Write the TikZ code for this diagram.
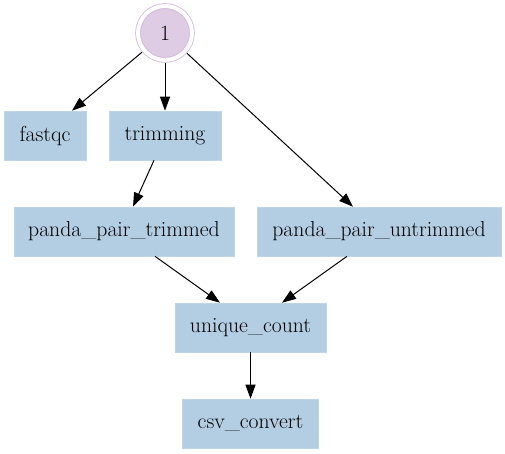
\documentclass[tikz,border=0pt]{standalone}
\usetikzlibrary{arrows.meta}
\definecolor{boxc}{HTML}{B3CDE3}
\definecolor{circfill}{HTML}{DECBE4}
\definecolor{ringc}{HTML}{D2B6DC}
\begin{document}
\begin{tikzpicture}[x=1pt,y=-1pt,
  every node/.style={font=\fontsize{21.7}{26}\selectfont, inner sep=0pt},
  task/.style={rectangle, fill=boxc, draw=boxc!85!white, line width=0.6pt, minimum height=49pt},
  startnode/.style={circle, minimum size=54pt, fill=circfill, draw=ringc, double=white, double distance=4pt, line width=0.8pt, outer sep=3pt},
  edge/.style={draw=black, line width=1pt, -{Triangle[length=14pt,width=10pt]}}
]
\useasboundingbox (0,0) rectangle (505,453);
\node[startnode] (one) at (165,33) {1};
\node[task, minimum width=82pt] (fastqc) at (45,135.5) {fastqc};
\node[task, minimum width=112pt] (trim) at (165,135.5) {trimming};
\node[task, minimum width=220pt] (ppt) at (124,231.5) {panda\_pair\_trimmed};
\node[task, minimum width=244pt] (ppu) at (379,231.5) {panda\_pair\_untrimmed};
\node[task, minimum width=151pt] (uc) at (250.5,327.5) {unique\_count};
\node[task, minimum width=136pt] (csv) at (250.5,423.5) {csv\_convert};
\draw[edge] (one) -- ([xshift=27pt]fastqc.north);
\draw[edge] (one) -- (trim.north);
\draw[edge] (one) -- ([xshift=-26pt]ppu.north);
\draw[edge] ([xshift=-11pt]trim.south) -- ([xshift=9pt]ppt.north);
\draw[edge] ([xshift=31pt]ppt.south) -- ([xshift=-30.5pt]uc.north);
\draw[edge] ([xshift=-32pt]ppu.south) -- ([xshift=31.5pt]uc.north);
\draw[edge] (uc.south) -- (csv.north);
\end{tikzpicture}
\end{document}
